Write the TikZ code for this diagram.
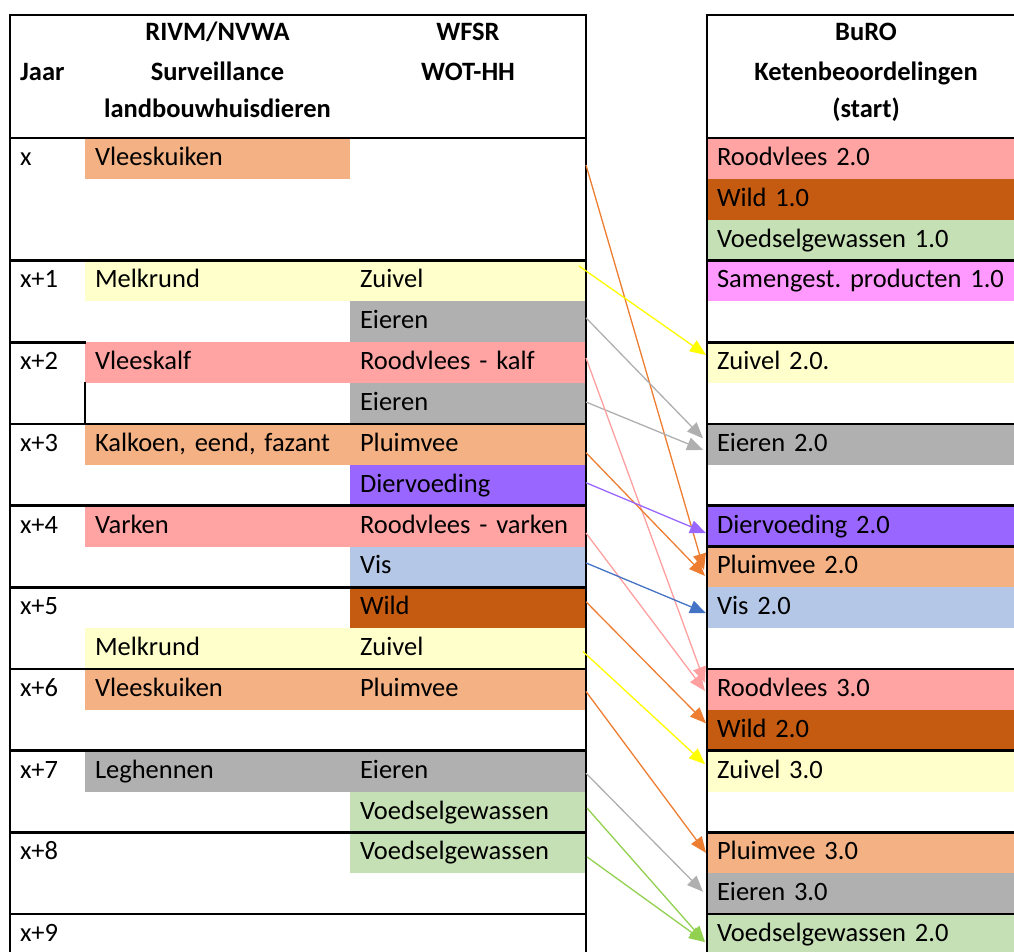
\documentclass[tikz,border=0pt]{standalone}
\usepackage{fontspec}
\setmainfont{Carlito}[WordSpace=0.75]
\usetikzlibrary{arrows.meta,calc}
\frenchspacing

\definecolor{cSalmon}{HTML}{F4B183}
\definecolor{cCream}{HTML}{FFFFCC}
\definecolor{cGrey}{HTML}{B0B0B0}
\definecolor{cPink}{HTML}{FFA3A3}
\definecolor{cViolet}{HTML}{9966FF}
\definecolor{cSky}{HTML}{B4C7E7}
\definecolor{cBrown}{HTML}{C55A11}
\definecolor{cLeaf}{HTML}{C5E0B4}
\definecolor{cMagenta}{HTML}{FF99FF}
\definecolor{cOrange}{HTML}{ED7D31}
\definecolor{cYellow}{HTML}{FFFF00}
\definecolor{cGreyLine}{HTML}{AFAFAF}
\definecolor{cRose}{HTML}{FF9F9F}
\definecolor{cBlue}{HTML}{4472C4}
\definecolor{cGreen}{HTML}{92D050}

\newcommand\rowy[1]{138+40.85*#1}

\begin{document}
\begin{tikzpicture}[x=1pt, y=-1pt,
  tcell/.style={anchor=north west, inner xsep=10pt, inner ysep=0pt, outer sep=0pt,
    minimum height=40.85pt, text height=19pt, text depth=5pt, align=left,
    font=\fontsize{26.5}{30}\selectfont\frenchspacing},
  colB/.style={tcell, text width=245pt},
  colC/.style={tcell, text width=216pt},
  colR/.style={tcell, text width=300pt},
  hd/.style={anchor=base, inner sep=0pt, font=\bfseries\fontsize{26.5}{30}\selectfont},
  rule/.style={line width=2.6pt, line cap=rect, line join=miter},
  flow/.style={line width=1.3pt, draw=#1, -{Triangle[length=16pt,width=13pt]}}]
  \clip (0,0) rectangle (1014,952);

  % header
  \node[hd, anchor=base west] (jaar) at (20,81) {Jaar};
  \node[hd] (rivm) at (217.5,41) {RIVM/NVWA};
  \node[hd] (surv) at (217.5,81) {Surveillance};
  \node[hd] (landb) at (217.5,118) {landbouwhuisdieren};
  \node[hd] (wfsr) at (468,41) {WFSR};
  \node[hd] (wot) at (468,81) {WOT-HH};
  \node[hd] (buro) at (866,41) {BuRO};
  \node[hd] (keten) at (866,81) {Ketenbeoordelingen};
  \node[hd] (start) at (866,118) {(start)};

  % years
  \foreach \k/\yr in {0/x, 3/x+1, 5/x+2, 7/x+3, 9/x+4, 11/x+5, 13/x+6, 15/x+7, 17/x+8, 19/x+9}
    \node[tcell] (yr\k) at (10,{\rowy{\k}}) {\yr};

  % RIVM/NVWA column
  \node[colB, fill=cSalmon] (vleeskuikenA) at (85,{\rowy{0}}) {Vleeskuiken};
  \node[colB, fill=cCream] (melkrundA) at (85,{\rowy{3}}) {Melkrund};
  \node[colB, fill=cPink] (vleeskalf) at (85,{\rowy{5}}) {Vleeskalf};
  \node[colB, fill=cSalmon] (kalkoen) at (85,{\rowy{7}}) {Kalkoen, eend, fazant};
  \node[colB, fill=cPink] (varken) at (85,{\rowy{9}}) {Varken};
  \node[colB, fill=cCream] (melkrundB) at (85,{\rowy{12}}) {Melkrund};
  \node[colB, fill=cSalmon] (vleeskuikenB) at (85,{\rowy{13}}) {Vleeskuiken};
  \node[colB, fill=cGrey] (leghennen) at (85,{\rowy{15}}) {Leghennen};

  % WFSR column
  \node[colC, fill=cCream] (zuivelA) at (350,{\rowy{3}}) {Zuivel};
  \node[colC, fill=cGrey] (eierenA) at (350,{\rowy{4}}) {Eieren};
  \node[colC, fill=cPink] (roodkalf) at (350,{\rowy{5}}) {Roodvlees - kalf};
  \node[colC, fill=cGrey] (eierenB) at (350,{\rowy{6}}) {Eieren};
  \node[colC, fill=cSalmon] (pluimveeA) at (350,{\rowy{7}}) {Pluimvee};
  \node[colC, fill=cViolet] (diervoeding) at (350,{\rowy{8}}) {Diervoeding};
  \node[colC, fill=cPink] (roodvarken) at (350,{\rowy{9}}) {Roodvlees - varken};
  \node[colC, fill=cSky] (vis) at (350,{\rowy{10}}) {Vis};
  \node[colC, fill=cBrown] (wild) at (350,{\rowy{11}}) {Wild};
  \node[colC, fill=cCream] (zuivelB) at (350,{\rowy{12}}) {Zuivel};
  \node[colC, fill=cSalmon] (pluimveeB) at (350,{\rowy{13}}) {Pluimvee};
  \node[colC, fill=cGrey] (eierenC) at (350,{\rowy{15}}) {Eieren};
  \node[colC, fill=cLeaf] (voedselA) at (350,{\rowy{16}}) {Voedselgewassen};
  \node[colC, fill=cLeaf] (voedselB) at (350,{\rowy{17}}) {Voedselgewassen};

  % BuRO column
  \foreach \nm/\k/\clr/\txt in {rood2/0/cPink/Roodvlees 2.0, wild1/1/cBrown/Wild 1.0,
      voedsel1/2/cLeaf/Voedselgewassen 1.0, samen1/3/cMagenta/Samengest. producten 1.0,
      zuivel2/5/cCream/Zuivel 2.0., eieren2/7/cGrey/Eieren 2.0, dier2/9/cViolet/Diervoeding 2.0,
      pluim2/10/cSalmon/Pluimvee 2.0, vis2/11/cSky/Vis 2.0, rood3/13/cPink/Roodvlees 3.0,
      wild2/14/cBrown/Wild 2.0, zuivel3/15/cCream/Zuivel 3.0, pluim3/17/cSalmon/Pluimvee 3.0,
      eieren3/18/cGrey/Eieren 3.0, voedsel2/19/cLeaf/Voedselgewassen 2.0}
    \node[colR, fill=\clr] (\nm) at (707,{\rowy{\k}}) {\txt};

  % table rules
  \draw[rule] (10,960) -- (10,15) -- (586,15) -- (586,960);
  \foreach \k in {0,3,7,9,11,13,15,17,19}
    \draw[rule] (10,{\rowy{\k}}) -- (586,{\rowy{\k}});
  \draw[rule] (10,{\rowy{5}}) -- (85,{\rowy{5}});
  \draw[rule] (85,{\rowy{6}}) -- (85,{\rowy{7}});
  \draw[rule] (1020,15) -- (707,15) -- (707,960);
  \foreach \k in {0,3,5,7,9,10,13,15,17,19}
    \draw[rule] (707,{\rowy{\k}}) -- (1020,{\rowy{\k}});

  % arrows
  \draw[flow=cOrange] ($(vleeskuikenA.east -| zuivelA.east)+(0,6.6)$) -- ($(pluim2.west)+(-3,3)$);
  \draw[flow=cYellow] ($(zuivelA.north east)+(-7,5.5)$) -- ($(zuivel2.west)+(-1,-7.7)$);
  \draw[flow=cGreyLine] ($(eierenA.east)+(0,-4)$) -- ($(eieren2.west)+(-4,-6)$);
  \draw[flow=cGreyLine] ($(eierenB.east)+(0,-1.5)$) -- ($(eieren2.west)+(-4,5.6)$);
  \draw[flow=cRose] ($(roodkalf.east)+(0,-4.7)$) -- ($(rood3.west)+(-2,-6.5)$);
  \draw[flow=cOrange] ($(pluimveeA.east)+(0,8.3)$) -- ($(pluim2.west)+(-2,9)$);
  \draw[flow=cViolet] ($(diervoeding.east)+(0,-2.5)$) -- ($(dier2.west)+(-1,7)$);
  \draw[flow=cRose] ($(roodvarken.east)+(0,7)$) -- ($(rood3.west)+(-2,1.5)$);
  \draw[flow=cBlue] ($(vis.east)+(0,-4)$) -- ($(vis2.west)+(-1,5.3)$);
  \draw[flow=cOrange] ($(wild.east)+(0,-6)$) -- ($(wild2.west)+(-1,-7)$);
  \draw[flow=cYellow] ($(zuivelB.east)+(-3,3)$) -- ($(zuivel3.west)+(-2,-7)$);
  \draw[flow=cOrange] ($(pluimveeB.east)+(0,2)$) -- ($(pluim3.west)+(-1,0)$);
  \draw[flow=cGreyLine] ($(eierenC.east)+(0,2)$) -- ($(eieren3.west)+(-4,-2)$);
  \draw[flow=cGreen] ($(voedselA.east)+(1,-4)$) -- ($(voedsel2.west)+(-2,7.5)$);
  \draw[flow=cGreen] ($(voedselB.east)+(1,4)$) -- ($(voedsel2.west)+(-2,7.5)$);
\end{tikzpicture}
\end{document}
